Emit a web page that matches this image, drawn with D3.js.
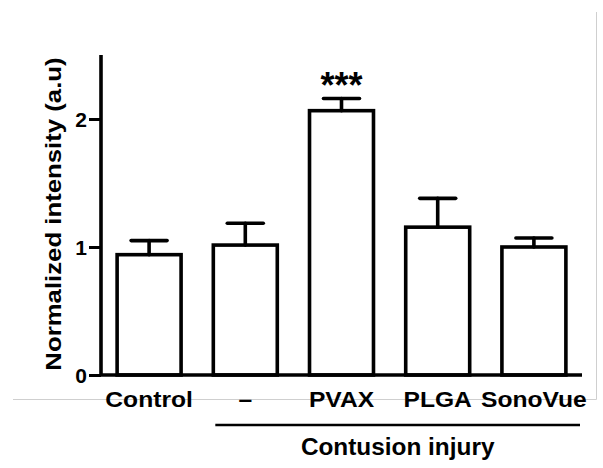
<!DOCTYPE html>
<html>
<head>
<meta charset="utf-8">
<script src="https://cdn.jsdelivr.net/npm/d3@7"></script>
<style>
    body { margin: 0; background: #ffffff; }
    text { font-family: "Liberation Sans", Arial, sans-serif; font-weight: bold; fill: #000000; }
</style>
</head>
<body>
<div id="graph"></div>
<script>
// values
var groups = ["Control", "\u2013", "PVAX", "PLGA", "SonoVue"];
var means = [0.94, 1.015, 2.065, 1.155, 1.0];
var sems = [0.11, 0.17, 0.095, 0.225, 0.07];
var marks = ["", "", "***", "", ""];
var yTicks = [0, 1, 2];
var yLabel = "Normalized intensity (a.u)";
var groupLabel = "Contusion injury";
var groupStart = "\u2013";

var width = 603;
var height = 468;

var svg = d3.select("#graph").append("svg")
    .attr("width", width)
    .attr("height", height);

var data = groups.map(function(g, i) {
    return {name: g, mean: means[i], sem: sems[i], mark: marks[i]};
});

var x = d3.scaleBand()
    .domain(groups)
    .range([101, 582])
    .paddingInner(0.335)
    .paddingOuter(0.1675);

var y = d3.scaleLinear()
    .domain([0, 2.5])
    .range([375, 55]);

// faint frame left over from the slide crop
svg.append("path")
    .attr("d", "M13,399.5H596.5V12")
    .attr("fill", "none")
    .attr("stroke", "#cfcfcf")
    .attr("stroke-width", 1);

// bars
svg.selectAll(".bar")
    .data(data)
    .enter()
    .append("rect")
    .attr("class", "bar")
    .attr("x", function(d) { return x(d.name); })
    .attr("y", function(d) { return y(d.mean); })
    .attr("width", x.bandwidth())
    .attr("height", function(d) { return y(0) - y(d.mean); })
    .attr("fill", "#ffffff")
    .attr("stroke", "#000000")
    .attr("stroke-width", 3.6);

// error bars (upper only)
var capHalf = 18;
var err = svg.selectAll(".err")
    .data(data)
    .enter()
    .append("g")
    .attr("class", "err")
    .attr("stroke", "#000000")
    .attr("stroke-width", 3.6)
    .attr("stroke-linecap", "round");

err.append("line")
    .attr("x1", function(d) { return x(d.name) + x.bandwidth() / 2; })
    .attr("x2", function(d) { return x(d.name) + x.bandwidth() / 2; })
    .attr("y1", function(d) { return y(d.mean); })
    .attr("y2", function(d) { return y(d.mean + d.sem); });

err.append("line")
    .attr("x1", function(d) { return x(d.name) + x.bandwidth() / 2 - capHalf; })
    .attr("x2", function(d) { return x(d.name) + x.bandwidth() / 2 + capHalf; })
    .attr("y1", function(d) { return y(d.mean + d.sem); })
    .attr("y2", function(d) { return y(d.mean + d.sem); });

// significance marks
svg.selectAll(".mark")
    .data(data.filter(function(d) { return d.mark; }))
    .enter()
    .append("text")
    .attr("class", "mark")
    .attr("x", function(d) { return x(d.name) + x.bandwidth() / 2; })
    .attr("y", function(d) { return y(d.mean + d.sem) - 1; })
    .attr("text-anchor", "middle")
    .attr("font-size", 36)
    .text(function(d) { return d.mark; });

// y axis
var yAxis = d3.axisLeft(y)
    .tickValues(yTicks)
    .tickFormat(d3.format("d"))
    .tickSize(12)
    .tickPadding(2);

var gY = svg.append("g")
    .attr("class", "axis axis--y")
    .attr("transform", "translate(101,0)")
    .call(yAxis);

gY.select(".domain")
    .attr("d", "M0," + y.range()[1] + "V" + y.range()[0])
    .attr("stroke", "#000000")
    .attr("stroke-width", 3.6);
gY.selectAll(".tick line")
    .attr("stroke", "#000000")
    .attr("stroke-width", 3);
gY.selectAll(".tick text")
    .attr("font-size", 21)
    .attr("font-family", null)
    .attr("dy", "0.36em");

// x axis baseline
svg.append("line")
    .attr("x1", x.range()[0])
    .attr("x2", x.range()[1])
    .attr("y1", y(0))
    .attr("y2", y(0))
    .attr("stroke", "#000000")
    .attr("stroke-width", 3.6);

// category labels
svg.selectAll(".xlabel")
    .data(groups)
    .enter()
    .append("text")
    .attr("class", "xlabel")
    .attr("text-anchor", "middle")
    .attr("font-size", 22)
    .attr("transform", function(d) {
        return "translate(" + (x(d) + x.bandwidth() / 2) + ",407) scale(1.12,1)";
    })
    .text(function(d) { return d; });

// group bracket
svg.append("line")
    .attr("x1", x(groupStart) + 2)
    .attr("x2", x.range()[1] - 2)
    .attr("y1", 425)
    .attr("y2", 425)
    .attr("stroke", "#000000")
    .attr("stroke-width", 2.5);

svg.append("text")
    .attr("text-anchor", "middle")
    .attr("font-size", 23)
    .attr("transform", "translate(" + ((x(groupStart) + x.range()[1]) / 2) + ",455) scale(1.06,1)")
    .text(groupLabel);

// y axis title
svg.append("text")
    .attr("text-anchor", "middle")
    .attr("font-size", 23)
    .attr("transform", "translate(61," + ((y.range()[0] + y.range()[1]) / 2 - 1) + ") rotate(-90) scale(1.12,1)")
    .text(yLabel);
</script>
</body>
</html>
